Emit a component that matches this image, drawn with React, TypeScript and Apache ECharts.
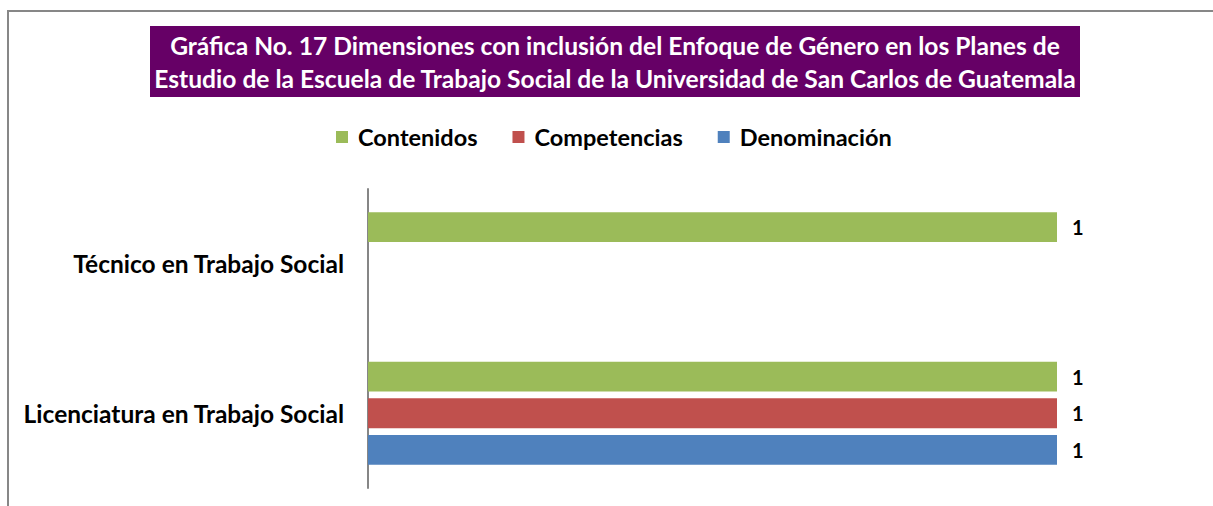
import React, { useEffect, useRef } from "react";
import * as echarts from "echarts";

const categories = ["Licenciatura en Trabajo Social", "Técnico en Trabajo Social"];
const contenidos = [1, 1];
const competencias = [1, null];
const denominacion = [1, null];
const titleLines = [
  "Gráfica No. 17 Dimensiones con inclusión del Enfoque de Género en los Planes de",
  "Estudio de la Escuela de Trabajo Social de la Universidad de San Carlos de Guatemala",
];
const legendOrder = ["Contenidos", "Competencias", "Denominación"];

const FONT = "Lato, Carlito, Calibri, 'Noto Sans', sans-serif";

export default function App() {
  const ref = useRef<HTMLDivElement>(null);
  useEffect(() => {
    if (!ref.current) return;
    const chart = echarts.init(ref.current, null, { renderer: "svg" });
    const label = {
      show: true,
      position: "right",
      distance: 15,
      color: "#000",
      fontWeight: "bold",
      fontSize: 20,
      fontFamily: FONT,
    };
    const common = { type: "bar", barCategoryGap: "31%", barGap: "23%", label };
    chart.setOption({
      animation: false,
      backgroundColor: "#fff",
      textStyle: { fontFamily: FONT },
      graphic: [
        {
          type: "rect",
          shape: { x: 8, y: 11, width: 1400, height: 700 },
          style: { fill: "none", stroke: "#878787", lineWidth: 2 },
          silent: true,
        },
        {
          type: "rect",
          shape: { x: 150, y: 26, width: 930, height: 71 },
          style: { fill: "#660066" },
          silent: true,
        },
        {
          type: "text",
          x: 615,
          y: 62,
          style: {
            text: titleLines.join("\n"),
            fill: "#fff",
            font: `bold 24.6px ${FONT}`,
            align: "center",
            verticalAlign: "middle",
            lineHeight: 33,
          },
          silent: true,
        },
      ],
      legend: {
        data: legendOrder,
        left: 336,
        top: 125,
        padding: 0,
        icon: "rect",
        itemWidth: 12,
        itemHeight: 12,
        itemGap: 35,
        textStyle: {
          fontWeight: "bold",
          fontSize: 23.5,
          color: "#000",
          fontFamily: FONT,
          padding: [0, 0, 0, 5],
        },
      },
      grid: { left: 368, right: 156, top: 189, bottom: 18, containLabel: false },
      xAxis: { type: "value", min: 0, max: 1, show: false },
      yAxis: {
        type: "category",
        data: categories,
        axisLine: { lineStyle: { color: "#868686", width: 2 } },
        axisTick: { show: false },
        axisLabel: {
          margin: 24,
          color: "#000",
          fontWeight: "bold",
          fontSize: 24.5,
          fontFamily: FONT,
        },
      },
      series: [
        { ...common, name: "Contenidos", data: contenidos, itemStyle: { color: "#9BBB59" } },
        { ...common, name: "Competencias", data: competencias, itemStyle: { color: "#C0504D" } },
        { ...common, name: "Denominación", data: denominacion, itemStyle: { color: "#4F81BD" } },
      ],
    });
    return () => chart.dispose();
  }, []);
  return (
    <div
      ref={ref}
      style={{ position: "absolute", left: 0, top: 0, width: 1213, height: 506 }}
    />
  );
}
